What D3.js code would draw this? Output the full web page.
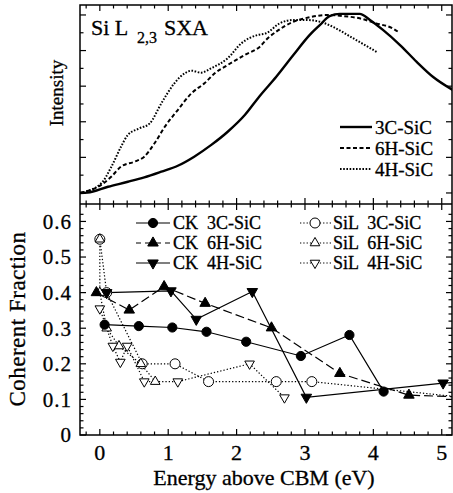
<!DOCTYPE html>
<html>
<head>
<meta charset="utf-8">
<script src="https://cdn.jsdelivr.net/npm/d3@7"></script>
<style>
  body { margin: 0; background: #fff; }
</style>
</head>
<body>
<svg width="453" height="493" style="font-family: 'Liberation Serif', 'DejaVu Serif', serif;"></svg>
<script>
// shared energy axis
let energyTicks = [0, 1, 2, 3, 4, 5];
let fracTicks = [0, 0.1, 0.2, 0.3, 0.4, 0.5, 0.6];
let fracLabels = ["0", "0.1", "0.2", "0.3", "0.4", "0.5", "0.6"];

// top panel: Si L2,3 SXA spectra (arbitrary units)
let sxa3cE = [-0.29, -0.18, 0.12, 0.41, 0.65, 0.9, 1.14, 1.38, 1.63, 1.87, 2.12, 2.33, 2.58, 2.83, 3.07, 3.22, 3.36, 3.51, 3.8, 3.95, 4.14, 4.39, 4.63, 4.87, 5.16];
let sxa3cI = [0, 0.002, 0.035, 0.063, 0.088, 0.12, 0.153, 0.204, 0.27, 0.344, 0.438, 0.541, 0.653, 0.775, 0.888, 0.944, 0.994, 1.006, 1.006, 0.972, 0.916, 0.831, 0.738, 0.653, 0.579];
let sxa6hE = [-0.29, 0.02, 0.17, 0.31, 0.51, 0.65, 0.8, 0.95, 1.14, 1.34, 1.53, 1.68, 1.87, 2.12, 2.34, 2.46, 2.58, 2.83, 3.07, 3.31, 3.55, 3.8, 4.04, 4.28, 4.36];
let sxa6hI = [0, 0.045, 0.092, 0.148, 0.176, 0.204, 0.279, 0.372, 0.466, 0.56, 0.616, 0.672, 0.719, 0.775, 0.822, 0.871, 0.906, 0.962, 0.987, 1.0, 0.994, 0.981, 0.953, 0.925, 0.906];
let sxa4hE = [-0.29, 0.02, 0.17, 0.31, 0.41, 0.58, 0.73, 0.9, 1.09, 1.24, 1.34, 1.48, 1.63, 1.87, 2.07, 2.31, 2.43, 2.63, 2.83, 3.02, 3.22, 3.41, 3.7, 4.05];
let sxa4hI = [0, 0.054, 0.148, 0.26, 0.326, 0.363, 0.391, 0.504, 0.616, 0.672, 0.687, 0.676, 0.701, 0.757, 0.841, 0.888, 0.897, 0.953, 0.972, 0.972, 0.962, 0.933, 0.87, 0.792];

// bottom panel: coherent fraction
let ck3cE = [0.07, 0.57, 1.06, 1.56, 2.14, 2.94, 3.65, 4.15];
let ck3cF = [0.31, 0.306, 0.302, 0.29, 0.262, 0.222, 0.281, 0.122];
let ck6hE = [-0.05, 0.43, 0.94, 1.54, 2.51, 3.51, 4.52, 5.4];
let ck6hF = [0.40, 0.351, 0.417, 0.37, 0.301, 0.173, 0.112, 0.106];
let ck4hE = [0.1, 1.04, 1.41, 2.23, 3.02, 5.02, 5.4];
let ck4hF = [0.40, 0.405, 0.325, 0.403, 0.106, 0.146, 0.15];
let sil3cE = [0, 0.1, 0.62, 1.1, 1.59, 2.58, 3.1, 5.6];
let sil3cF = [0.55, 0.40, 0.20, 0.20, 0.15, 0.15, 0.15, 0.10];
let sil6hE = [0, 0, 0.1, 0.28, 0.6, 0.81];
let sil6hF = [0.55, 0.40, 0.30, 0.25, 0.20, 0.15];
let sil4hE = [0, 0.19, 0.3, 0.4, 0.65, 1.14, 2.19, 2.7];
let sil4hF = [0.355, 0.25, 0.205, 0.25, 0.15, 0.15, 0.20, 0.105];

var svg = d3.select("svg");
var serif = "'Liberation Serif', 'DejaVu Serif', serif";
var left = 80, right = 452, topY = 5, midY = 204, botY = 435;

var x = d3.scaleLinear().domain([-0.29, 5.15]).range([left, right]);
var yTop = d3.scaleLinear().domain([-0.062, 1.056]).range([midY, topY]);
var yBot = d3.scaleLinear().domain([0, 0.649]).range([botY, midY]);

var defs = svg.append("defs");
defs.append("clipPath").attr("id", "clipTop").append("rect")
    .attr("x", left).attr("y", topY).attr("width", right - left).attr("height", midY - topY);
defs.append("clipPath").attr("id", "clipBot").append("rect")
    .attr("x", left).attr("y", midY).attr("width", right - left).attr("height", botY - midY);

function zip(a, b){ return a.map(function(d, i){ return [d, b[i]]; }); }
// scanned-print look: slightly heavy serif text
function txt(sel, size){
    return sel.attr("font-family", serif).attr("font-size", size).attr("fill", "black")
        .attr("stroke", "black").attr("stroke-width", 0.3);
}

// ---- ticks (all inward) ----
var xMajor = d3.range(0, 5.01, 1), xMinor = d3.range(-0.2, 5.15, 0.2).filter(function(d){ return Math.abs(d - Math.round(d)) > 0.01; });
var ticks = svg.append("g").attr("stroke", "black").attr("stroke-width", 1.2);
function xTicks(yPos, dir){
    xMajor.forEach(function(v){ ticks.append("line").attr("x1", x(v)).attr("x2", x(v)).attr("y1", yPos).attr("y2", yPos + dir * 6); });
    xMinor.forEach(function(v){ ticks.append("line").attr("x1", x(v)).attr("x2", x(v)).attr("y1", yPos).attr("y2", yPos + dir * 3.5); });
}
xTicks(topY, 1); xTicks(midY, -1); xTicks(midY, 1); xTicks(botY, -1);

function yTicks(scale, majors, minors){
    majors.forEach(function(v){
        ticks.append("line").attr("x1", left).attr("x2", left + 6).attr("y1", scale(v)).attr("y2", scale(v));
        ticks.append("line").attr("x1", right).attr("x2", right - 6).attr("y1", scale(v)).attr("y2", scale(v));
    });
    minors.forEach(function(v){
        ticks.append("line").attr("x1", left).attr("x2", left + 3.5).attr("y1", scale(v)).attr("y2", scale(v));
        ticks.append("line").attr("x1", right).attr("x2", right - 3.5).attr("y1", scale(v)).attr("y2", scale(v));
    });
}
yTicks(yTop, [0, 0.2, 0.4, 0.6, 0.8, 1.0], [0.1, 0.3, 0.5, 0.7, 0.9]);
yTicks(yBot, fracTicks, d3.range(0.02, 0.64, 0.02).filter(function(d){ return Math.abs(d * 10 - Math.round(d * 10)) > 0.01; }));

// frames
svg.append("rect").attr("x", left).attr("y", topY).attr("width", right - left).attr("height", botY - topY)
    .attr("fill", "none").attr("stroke", "black").attr("stroke-width", 1.5);
svg.append("line").attr("x1", left).attr("x2", right).attr("y1", midY).attr("y2", midY)
    .attr("stroke", "black").attr("stroke-width", 1.5);

// ---- top panel spectra ----
var lineTop = d3.line().x(function(d){ return x(d[0]); }).y(function(d){ return yTop(d[1]); }).curve(d3.curveMonotoneX);
var gTop = svg.append("g").attr("clip-path", "url(#clipTop)").attr("fill", "none").attr("stroke", "black");
gTop.append("path").attr("d", lineTop(zip(sxa4hE, sxa4hI))).attr("stroke-width", 2).attr("stroke-dasharray", "1.6,1.6");
gTop.append("path").attr("d", lineTop(zip(sxa6hE, sxa6hI))).attr("stroke-width", 2).attr("stroke-dasharray", "4,2.5");
gTop.append("path").attr("d", lineTop(zip(sxa3cE, sxa3cI))).attr("stroke-width", 2.4);

txt(svg.append("text"), "22px").attr("x", 91).attr("y", 35)
    .call(function(t){
        t.append("tspan").text("Si L");
        t.append("tspan").attr("x", 137).attr("dy", 8).attr("font-size", "16px").text("2,3");
        t.append("tspan").attr("x", 164).attr("dy", -8).text("SXA");
    });
txt(svg.append("text"), "19px").attr("transform", "translate(63,93) rotate(-90)").attr("text-anchor", "middle")
    .text("Intensity");

var topLegend = [["3C-SiC", null, 2.4], ["6H-SiC", "4,2.5", 2], ["4H-SiC", "1.6,1.6", 2]];
topLegend.forEach(function(d, i){
    var yy = 127 + i * 21;
    svg.append("line").attr("x1", 340).attr("x2", 372).attr("y1", yy).attr("y2", yy)
        .attr("stroke", "black").attr("stroke-width", d[2]).attr("stroke-dasharray", d[1]);
    txt(svg.append("text"), "19px").attr("x", 375).attr("y", yy).attr("dy", "0.35em").text(d[0]);
});

// ---- bottom panel ----
var lineBot = d3.line().x(function(d){ return x(d[0]); }).y(function(d){ return yBot(d[1]); });
var gBot = svg.append("g").attr("clip-path", "url(#clipBot)");

var series = [
    {e: sil3cE, f: sil3cF, dash: "1.3,2", sym: "circle", fill: "white"},
    {e: sil6hE, f: sil6hF, dash: "1.3,2", sym: "up", fill: "white"},
    {e: sil4hE, f: sil4hF, dash: "1.3,2", sym: "down", fill: "white"},
    {e: ck6hE, f: ck6hF, dash: "9,4", sym: "up", fill: "black"},
    {e: ck4hE, f: ck4hF, dash: null, sym: "down", fill: "black"},
    {e: ck3cE, f: ck3cF, dash: null, sym: "circle", fill: "black"}
];

function marker(g, kind, fill, cx, cy){
    var open = fill === "white";
    if(kind === "circle"){
        g.append("circle").attr("cx", cx).attr("cy", cy).attr("r", open ? 5 : 4.6)
            .attr("fill", fill).attr("stroke", "black").attr("stroke-width", 1);
    } else {
        var s = d3.symbol().type(d3.symbolTriangle).size(open ? 40 : 48);
        g.append("path").attr("d", s())
            .attr("transform", "translate(" + cx + "," + cy + ")" + (kind === "down" ? " rotate(180)" : ""))
            .attr("fill", fill).attr("stroke", "black").attr("stroke-width", 1);
    }
}

series.forEach(function(s){
    gBot.append("path").attr("d", lineBot(zip(s.e, s.f))).attr("fill", "none")
        .attr("stroke", "black").attr("stroke-width", 1.2).attr("stroke-dasharray", s.dash);
});
series.forEach(function(s){
    s.e.forEach(function(e, i){ marker(gBot, s.sym, s.fill, x(e), yBot(s.f[i])); });
});

// bottom legend
var legCK = [["3C-SiC", "circle", null], ["6H-SiC", "up", "9,4"], ["4H-SiC", "down", null]];
var gLeg = svg.append("g");
legCK.forEach(function(d, i){
    var yy = 223 + i * 20;
    gLeg.append("line").attr("x1", 136).attr("x2", 170).attr("y1", yy).attr("y2", yy)
        .attr("stroke", "black").attr("stroke-width", 1.2).attr("stroke-dasharray", d[2] ? "6,4" : null)
        .attr("stroke-dashoffset", d[2] ? 1 : 0);
    marker(gLeg, d[1], "black", 153, yy);
    txt(gLeg.append("text"), "18px").attr("x", 173).attr("y", yy).attr("dy", "0.35em")
        .attr("xml:space", "preserve").text("CK  " + d[0]);

    gLeg.append("line").attr("x1", 300).attr("x2", 331).attr("y1", yy).attr("y2", yy)
        .attr("stroke", "black").attr("stroke-width", 1.2).attr("stroke-dasharray", "1.3,2");
    marker(gLeg, d[1], "white", 315, yy);
    txt(gLeg.append("text"), "18px").attr("x", 333).attr("y", yy).attr("dy", "0.35em")
        .attr("xml:space", "preserve").text("SiL  " + d[0]);
});

// axis labels
txt(svg.append("g").selectAll("text").data(energyTicks).enter().append("text"), "22px")
    .attr("x", function(d){ return x(d); }).attr("y", 460).attr("text-anchor", "middle")
    .text(function(d){ return d; });
txt(svg.append("g").selectAll("text").data(fracTicks).enter().append("text"), "21px")
    .attr("x", 72).attr("y", function(d){ return yBot(d); }).attr("dy", "0.35em").attr("text-anchor", "end")
    .attr("letter-spacing", 1)
    .text(function(d, i){ return fracLabels[i]; });

txt(svg.append("text"), "22px").attr("x", 264).attr("y", 485).attr("text-anchor", "middle")
    .text("Energy above CBM (eV)");
txt(svg.append("text"), "23px").attr("transform", "translate(25,319) rotate(-90)").attr("text-anchor", "middle")
    .attr("letter-spacing", 0.5)
    .text("Coherent Fraction");
</script>
</body>
</html>
